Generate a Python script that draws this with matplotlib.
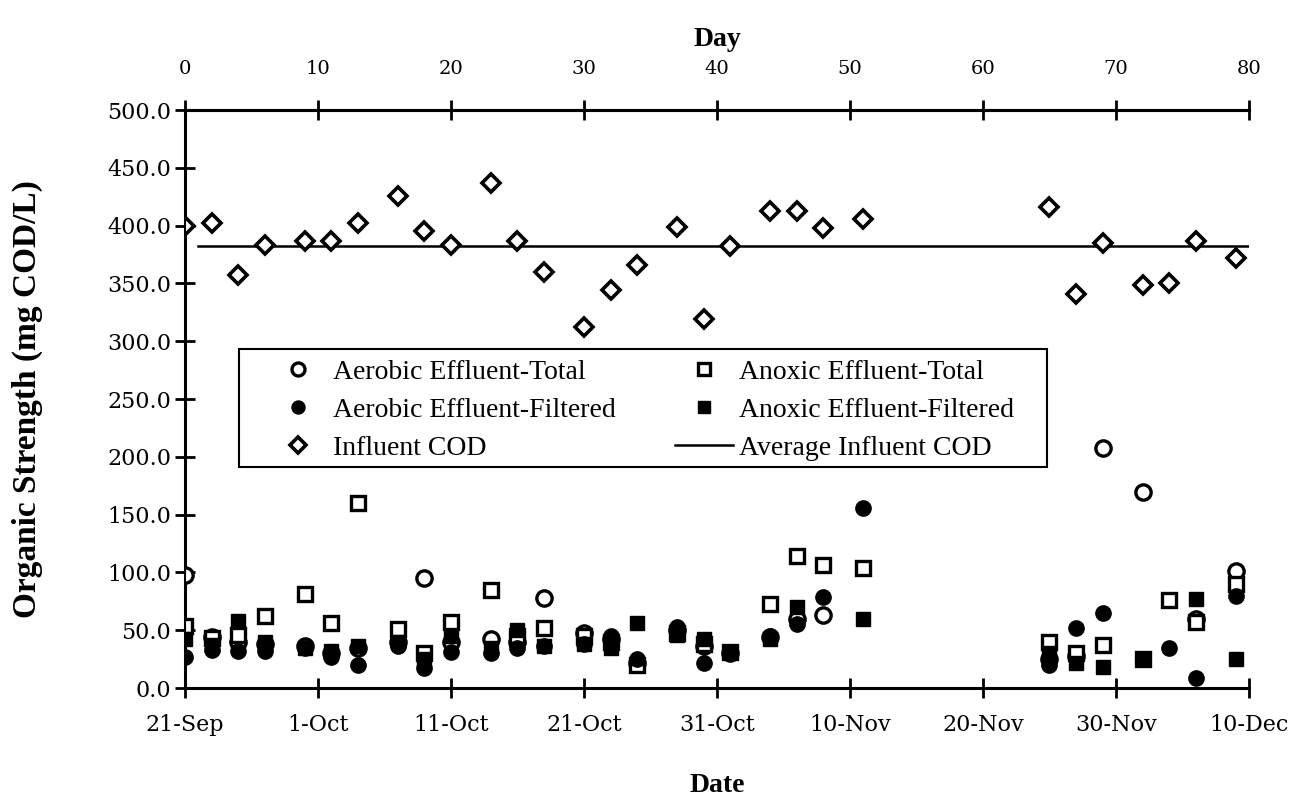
import matplotlib
matplotlib.use("Agg")
import matplotlib.pyplot as plt
from matplotlib.patches import Rectangle
import numpy as np

plt.rcParams['font.family'] = ['Liberation Serif', 'DejaVu Serif']

# sampling days (day 0 = 21-Sep)
days = [0, 2, 4, 6, 9, 11, 13, 16, 18, 20, 23, 25, 27, 30, 32, 34, 37, 39, 41,
        44, 46, 48, 51, 65, 67, 69, 72, 74, 76, 79]

influent_cod = [400, 402, 357, 383, 387, 387, 402, 426, 395, 383, 437, 387, 360,
                312, 344, 366, 399, 319, 382, 413, 413, 398, 406, 416, 341, 385,
                349, 350, 387, 372]

aerobic_total = [98, 44, 40, 38, 36, 30, 35, 40, 95, 40, 42, 40, 78, 48, 42, 22,
                 50, 36, 30, 44, 60, 63, np.nan, 25, 28, 208, 170, np.nan, 60, 101]
aerobic_filtered = [27, 33, 32, 32, 35, 27, 20, 36, 17, 31, 30, 35, 36, 38, 45,
                    25, 53, 22, 31, 45, 55, 79, 156, 20, 52, 65, 25, 35, 9, 80]
anoxic_total = [54, 43, 46, 62, 81, 56, 160, 51, 30, 57, 85, 45, 52, 45, 40, 20,
                48, 38, 31, 73, 114, 106, 104, 40, 30, 37, 25, 76, 57, 90]
anoxic_filtered = [42, 37, 58, 40, 35, 32, 36, 40, 25, 45, 35, 50, 36, 38, 35,
                   56, 46, 42, 31, 42, 70, np.nan, 60, 30, 22, 18, 25, np.nan, 77, 25]

avg_days = [1, 80]
avg_influent = [382, 382]

date_ticks = [0, 10, 20, 30, 40, 50, 60, 70, 80]
date_labels = ['21-Sep', '1-Oct', '11-Oct', '21-Oct', '31-Oct', '10-Nov',
               '20-Nov', '30-Nov', '10-Dec']
day_ticks = [0, 10, 20, 30, 40, 50, 60, 70, 80]

tick_font = ['DejaVu Serif']

fig = plt.figure(figsize=(13.01, 8.02), dpi=100)
ax = fig.add_axes([0.1422, 0.1421, 0.8178, 0.7207])

ms = 11
ew = 2.4
h1, = ax.plot(days, aerobic_total, 'o', ms=ms, mfc='white', mec='black', mew=ew,
              label='Aerobic Effluent-Total', zorder=3)
h3, = ax.plot(days, anoxic_total, 's', ms=ms - 0.5, mfc='white', mec='black', mew=ew,
              label='Anoxic Effluent-Total', zorder=3)
h2, = ax.plot(days, aerobic_filtered, 'o', ms=ms, color='black',
              label='Aerobic Effluent-Filtered', zorder=4)
h4, = ax.plot(days, anoxic_filtered, 's', ms=ms - 0.5, color='black',
              label='Anoxic Effluent-Filtered', zorder=4)
h5, = ax.plot(days, influent_cod, 'D', ms=9, mfc='white', mec='black', mew=2.6,
              label='Influent COD', zorder=5)
h6, = ax.plot(avg_days, avg_influent, '-', color='black', lw=1.8,
              label='Average Influent COD', zorder=2)

ax.set_xlim(0, 80)
ax.set_ylim(0, 500)
ax.set_yticks(np.arange(0, 501, 50))
ax.set_yticklabels(['%.1f' % v for v in np.arange(0, 501, 50)], fontsize=16,
                   family=tick_font)
ax.set_xticks(date_ticks)
ax.set_xticklabels(date_labels, fontsize=16, family=tick_font)
ax.tick_params(axis='y', direction='inout', length=14, width=2, pad=3)
ax.tick_params(axis='x', direction='inout', length=14, width=2, pad=12)

ax.spines['right'].set_visible(False)
for side in ['left', 'bottom', 'top']:
    ax.spines[side].set_linewidth(2.2)

ax.set_xlabel('Date', fontsize=20, fontweight='bold', labelpad=26)
ax.set_ylabel('Organic Strength (mg COD/L)', fontsize=24, fontweight='bold')
ax.yaxis.set_label_coords(-0.1335, 0.5)

top = ax.twiny()
top.set_xlim(0, 80)
top.set_xticks(day_ticks)
top.set_xticklabels([str(d) for d in day_ticks], fontsize=14, family=tick_font)
top.tick_params(axis='x', direction='inout', length=14, width=2, pad=16)
top.spines['right'].set_visible(False)
top.spines['top'].set_linewidth(2.2)
top.set_xlabel('Day', fontsize=20, fontweight='bold', labelpad=10)

# legend box
ax.add_patch(Rectangle((0.0508, 0.3824), 0.7594, 0.2042, transform=ax.transAxes,
                       facecolor='white', edgecolor='black', lw=1.5, zorder=5.5))
leg = ax.legend(handles=[h1, h2, h5, h3, h4, h6], ncol=2, loc='center left',
                bbox_to_anchor=(0.0789, 0.431, 0.700, 0.1), mode='expand',
                fontsize=20, frameon=False, borderpad=0, borderaxespad=0,
                handlelength=2.1, handletextpad=0.2,
                labelspacing=0.45, columnspacing=1.0, markerscale=0.85)
leg.set_zorder(6)

fig.savefig('out.png', dpi=100)
